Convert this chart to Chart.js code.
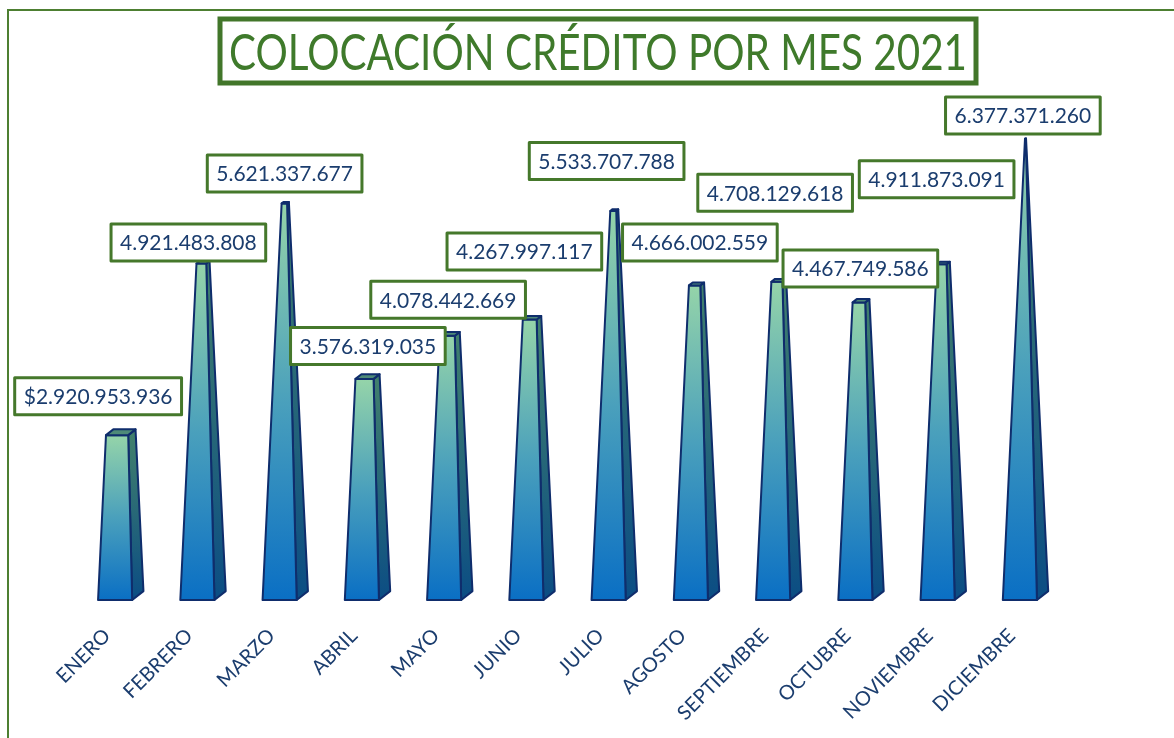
<!DOCTYPE html>
<html lang="es">
<head>
<meta charset="utf-8">
<title>Colocación crédito por mes 2021</title>
<script src="https://cdn.jsdelivr.net/npm/chart.js@4.4.1/dist/chart.umd.min.js"></script>
<style>
  html, body { margin: 0; padding: 0; background: #fff; }
  #contenedor { position: relative; width: 1174px; height: 738px; }
</style>
</head>
<body>
<div id="contenedor"><canvas id="grafico"></canvas></div>
<script>
// Datos del gráfico
const meses = ['ENERO', 'FEBRERO', 'MARZO', 'ABRIL', 'MAYO', 'JUNIO', 'JULIO',
               'AGOSTO', 'SEPTIEMBRE', 'OCTUBRE', 'NOVIEMBRE', 'DICIEMBRE'];
const valores = [2920953936, 4921483808, 5621337677, 3576319035, 4078442669, 4267997117,
                 5533707788, 4666002559, 4708129618, 4467749586, 4911873091, 6377371260];
const ejeMin = 1000000000;
const ejeMax = 6500000000;
const titulo = 'COLOCACIÓN CRÉDITO POR MES 2021';

// Desplazamiento (px) de cada etiqueta respecto a la punta de su barra
const despEtiquetas = [[-17, -39], [-9, -21], [5, -30], [6, -33], [4, -36], [-2, -68],
                       [-2, -50], [9, -43], [2, -89], [5, -34], [-1, -85], [3, -23]];

const verde = '#45782b';
const azulTexto = '#1b3d6e';

function formatear(v, i) {
  const s = String(v).replace(/\B(?=(\d{3})+(?!\d))/g, '.');
  return (i === 0 ? '$' : '') + s;
}

function poligono(ctx, puntos, relleno) {
  ctx.beginPath();
  ctx.moveTo(puntos[0][0], puntos[0][1]);
  for (let k = 1; k < puntos.length; k++) ctx.lineTo(puntos[k][0], puntos[k][1]);
  ctx.closePath();
  ctx.fillStyle = relleno;
  ctx.fill();
  ctx.stroke();
}

// Dibuja cada barra como pirámide truncada (3D) usando la geometría de Chart.js
const piramides = {
  id: 'piramides',
  beforeDraw(chart) {
    const ctx = chart.ctx;
    ctx.save();
    ctx.fillStyle = '#fff';
    ctx.fillRect(0, 0, chart.width, chart.height);
    // marco exterior
    ctx.strokeStyle = '#4d7f31';
    ctx.lineWidth = 2;
    ctx.beginPath();
    ctx.moveTo(8, chart.height);
    ctx.lineTo(8, 10);
    ctx.lineTo(chart.width, 10);
    ctx.stroke();
    ctx.restore();
  },
  afterDatasetsDraw(chart) {
    const ctx = chart.ctx;
    const escY = chart.scales.y;
    const cima = escY.getPixelForValue(ejeMax);
    const base = escY.getPixelForValue(ejeMin);
    const meta = chart.getDatasetMeta(0);
    ctx.save();
    ctx.strokeStyle = '#0f2d6c';
    ctx.lineWidth = 2;
    ctx.lineJoin = 'round';
    meta.data.forEach((barra) => {
      const { x, y, width } = barra.getProps(['x', 'y', 'width'], true);
      const t = (base - y) / (base - cima);
      const mb = width / 2;
      const mt = mb * (1 - t);
      const ox = width * 0.33, oy = -width * 0.26;
      const f = t / 2, b = 1 - t / 2;
      const fx = f * ox;
      const bx = b * ox, by = (b - f) * oy;

      const gFrente = ctx.createLinearGradient(0, y, 0, base);
      gFrente.addColorStop(0, '#95d4a9');
      gFrente.addColorStop(0.5, '#4aa0bc');
      gFrente.addColorStop(1, '#0a6fc4');
      const gLado = ctx.createLinearGradient(0, y, 0, base);
      gLado.addColorStop(0, '#41806c');
      gLado.addColorStop(1, '#0b4d84');

      // cara lateral
      poligono(ctx, [[x + mb, base], [x + mb + ox, base + oy], [x + mt + bx, y + by], [x + mt + fx, y]], gLado);
      // cara frontal
      poligono(ctx, [[x - mb, base], [x + mb, base], [x + mt + fx, y], [x - mt + fx, y]], gFrente);
      // cara superior
      if (mt > 0.8) {
        poligono(ctx, [[x - mt + fx, y], [x + mt + fx, y], [x + mt + bx, y + by], [x - mt + bx, y + by]], '#4e8a78');
      }
    });

    // etiquetas de datos
    ctx.font = '21px Lato';
    ctx.textAlign = 'center';
    ctx.textBaseline = 'middle';
    meta.data.forEach((barra, i) => {
      const { x, y } = barra.getProps(['x', 'y'], true);
      const texto = formatear(valores[i], i);
      const cx = x + despEtiquetas[i][0];
      const cy = y + despEtiquetas[i][1];
      const w = ctx.measureText(texto).width + 18;
      const h = 37;
      ctx.fillStyle = '#fff';
      ctx.fillRect(cx - w / 2, cy - h / 2, w, h);
      ctx.strokeStyle = verde;
      ctx.lineWidth = 3;
      ctx.strokeRect(cx - w / 2, cy - h / 2, w, h);
      ctx.fillStyle = azulTexto;
      ctx.fillText(texto, cx, cy + 1);
    });
    ctx.restore();
  },
  afterDraw(chart) {
    // título con recuadro
    const ctx = chart.ctx;
    ctx.save();
    ctx.strokeStyle = '#42762a';
    ctx.lineWidth = 5;
    ctx.strokeRect(220, 19, 756, 64);
    ctx.font = '50px Lato';
    ctx.textAlign = 'center';
    ctx.textBaseline = 'middle';
    const ancho = ctx.measureText(titulo).width;
    const escala = 738 / ancho;
    ctx.translate(598, 54);
    ctx.scale(escala, 1);
    ctx.fillStyle = '#3f7a2b';
    ctx.fillText(titulo, 0, 0);
    ctx.restore();
  }
};

const contexto = document.getElementById('grafico').getContext('2d');

const grafico = new Chart(contexto, {
  type: 'bar',
  data: {
    labels: meses,
    datasets: [{
      data: valores,
      backgroundColor: 'rgba(0,0,0,0)',
      borderWidth: 0,
      barPercentage: 0.83,
      categoryPercentage: 0.5
    }]
  },
  options: {
    responsive: true,
    maintainAspectRatio: false,
    animation: false,
    layout: { padding: { left: 74, right: 113, top: 128, bottom: 0 } },
    plugins: {
      legend: { display: false },
      tooltip: { enabled: false },
      title: { display: false }
    },
    scales: {
      x: {
        grid: { display: false },
        border: { display: false },
        ticks: {
          color: azulTexto,
          font: { family: 'Lato', size: 20 },
          maxRotation: 45,
          minRotation: 45,
          padding: 16,
          labelOffset: -8
        },
        afterFit: (escala) => { escala.height = 138; }
      },
      y: { display: false, min: ejeMin, max: ejeMax }
    }
  },
  plugins: [piramides]
});
</script>
</body>
</html>
